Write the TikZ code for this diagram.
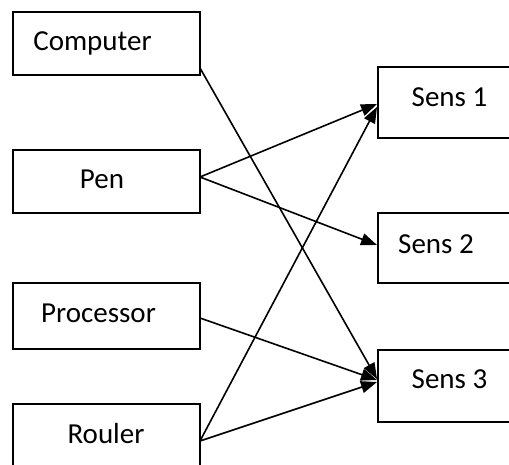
\documentclass[tikz,border=0pt]{standalone}
\usepackage{fontspec}
\setmainfont{Carlito}
\usetikzlibrary{arrows.meta}
\begin{document}
\begin{tikzpicture}[x=1pt,y=-1pt,
  boxnode/.style={draw=black,line width=1.7pt,rectangle,inner sep=0pt,fill=none},
  txt/.style={inner sep=0pt,anchor=base,font=\fontsize{29}{34}\selectfont},
  conn/.style={line width=1.6pt,-{Triangle[length=16pt,width=12pt]}}]
\useasboundingbox (0,0) rectangle (509,464);
\clip (0,0) rectangle (509,464);
\fill[white] (0,0) rectangle (509,464);
% left boxes
\node[boxnode,minimum width=187pt,minimum height=63pt] (computer) at (106.5,43.5) {};
\node[boxnode,minimum width=187pt,minimum height=63pt] (pen) at (106.5,181.5) {};
\node[boxnode,minimum width=187pt,minimum height=66pt] (processor) at (106.5,316) {};
\node[boxnode,minimum width=187pt,minimum height=76pt] (rouler) at (106.5,442) {};
% right boxes
\node[boxnode,minimum width=160pt,minimum height=71pt] (sens1) at (458,102.5) {};
\node[boxnode,minimum width=160pt,minimum height=70pt] (sens2) at (458,248) {};
\node[boxnode,minimum width=160pt,minimum height=72pt] (sens3) at (458,386) {};
% texts
\node[txt] (tcomputer) at (92.5,50) {Computer};
\node[txt] (tpen) at (102,188) {Pen};
\node[txt] (tprocessor) at (98.5,322) {Processor};
\node[txt] (trouler) at (106,443) {Rouler};
\node[txt] (tsens1) at (449.5,106) {Sens 1};
\node[txt] (tsens2) at (436,253) {Sens 2};
\node[txt] (tsens3) at (449.5,388) {Sens 3};
% connector ends
\coordinate (cout) at (200,68);
\coordinate (pout) at (200,177);
\coordinate (prout) at (200,318);
\coordinate (rout) at (200,441);
\coordinate (s1a) at (377,104);
\coordinate (s1b) at (377,107);
\coordinate (s2a) at (377,245);
\coordinate (s3a) at (377,379);
\coordinate (s3b) at (377,380);
\coordinate (s3c) at (377,382);
% connectors
\draw[conn] (cout) -- (s3a);
\draw[conn] (pout) -- (s1a);
\draw[conn] (pout) -- (s2a);
\draw[conn] (prout) -- (s3b);
\draw[conn] (rout) -- (s1b);
\draw[conn] (rout) -- (s3c);
\end{tikzpicture}
\end{document}
